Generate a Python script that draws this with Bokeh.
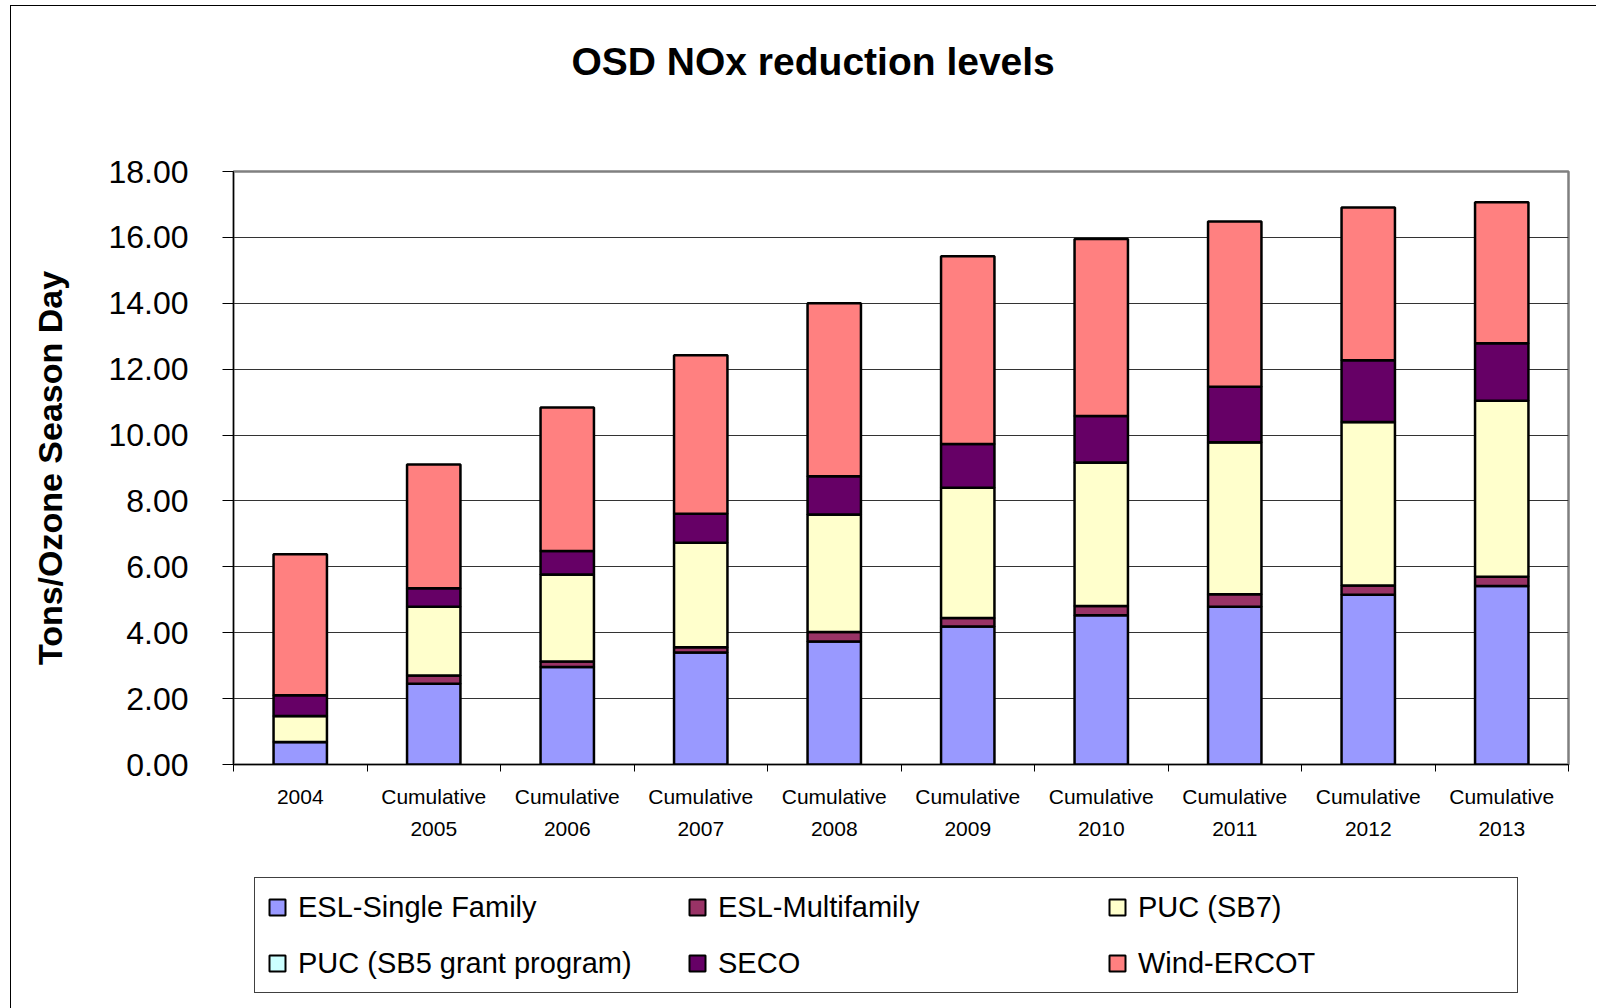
from bokeh.plotting import figure
from bokeh.layouts import column
from bokeh.models import (ColumnDataSource, FixedTicker, LinearAxis, Range1d,
                          Legend, LegendItem, NumeralTickFormatter, Title)
from bokeh.embed import file_html
from bokeh.resources import INLINE

# ---- data ----
categories = ["2004", "Cumulative 2005", "Cumulative 2006", "Cumulative 2007",
              "Cumulative 2008", "Cumulative 2009", "Cumulative 2010",
              "Cumulative 2011", "Cumulative 2012", "Cumulative 2013"]
label_line1 = ["2004", "Cumulative", "Cumulative", "Cumulative", "Cumulative",
               "Cumulative", "Cumulative", "Cumulative", "Cumulative", "Cumulative"]
label_line2 = ["", "2005", "2006", "2007", "2008", "2009", "2010", "2011", "2012", "2013"]

esl_single = [0.68, 2.45, 2.96, 3.40, 3.73, 4.19, 4.53, 4.79, 5.15, 5.42]
esl_multi = [0.00, 0.25, 0.17, 0.16, 0.29, 0.26, 0.28, 0.38, 0.28, 0.28]
puc_sb7 = [0.79, 2.09, 2.64, 3.17, 3.57, 3.95, 4.36, 4.61, 4.97, 5.34]
puc_sb5 = [0.00, 0.00, 0.00, 0.00, 0.00, 0.00, 0.00, 0.00, 0.00, 0.00]
seco = [0.63, 0.56, 0.71, 0.88, 1.16, 1.33, 1.41, 1.69, 1.87, 1.75]
wind = [4.28, 3.76, 4.36, 4.81, 5.25, 5.70, 5.37, 5.01, 4.64, 4.28]

series_names = ["ESL-Single Family", "ESL-Multifamily", "PUC (SB7)",
                "PUC (SB5 grant program)", "SECO", "Wind-ERCOT"]
series_colors = ["#9999FF", "#993366", "#FFFFCC", "#CCFFFF", "#660066", "#FF8080"]
y_ticks = [0, 2, 4, 6, 8, 10, 12, 14, 16, 18]
title_text = "OSD NOx reduction levels"
y_label = "Tons/Ozone Season Day"

# ---- main figure ----
FONT = "Liberation Sans"
xs = list(range(len(categories)))
keys = ["s0", "s1", "s2", "s3", "s4", "s5"]
data = dict(x=xs, s0=esl_single, s1=esl_multi, s2=puc_sb7, s3=puc_sb5, s4=seco, s5=wind)
source = ColumnDataSource(data)

p = figure(width=1585, height=844, output_backend="svg", toolbar_location=None,
           x_range=Range1d(-0.5, len(categories) - 0.5), y_range=Range1d(0, 18),
           min_border_left=222, min_border_right=28, min_border_top=165,
           min_border_bottom=86, x_axis_type=None)
p.title = None

renderers = p.vbar_stack(keys, x="x", width=0.4, source=source, color=series_colors,
                         line_color="black", line_width=2.5)
for r, c in zip(renderers, series_colors):
    r.glyph.fill_color = c
    r.glyph.line_color = "black"

p.background_fill_color = "white"
p.border_fill_color = "white"
p.outline_line_color = "#808080"
p.outline_line_width = 2.5

# invisible spacer axis between frame and title
spacer = LinearAxis(ticker=FixedTicker(ticks=[0], minor_ticks=[]))
spacer.major_label_overrides = {0: "."}
spacer.axis_line_color = None
spacer.major_tick_line_color = None
spacer.minor_tick_line_color = None
spacer.major_tick_out = 84
spacer.major_tick_in = 0
spacer.minor_tick_out = 0
spacer.major_label_standoff = 0
spacer.major_label_text_font_size = "2px"
spacer.major_label_text_alpha = 0
p.add_layout(spacer, "above")

title = Title(text=title_text, text_font=FONT, text_font_size="39px",
              text_font_style="bold", text_color="black", align="left",
              offset=338, vertical_align="bottom", standoff=10)
p.add_layout(title, "above")

# y axis
yax = p.yaxis[0]
yax.ticker = FixedTicker(ticks=y_ticks)
yax.formatter = NumeralTickFormatter(format="0.00")
yax.major_label_text_font = FONT
yax.major_label_text_font_size = "32px"
yax.major_label_text_color = "black"
yax.major_tick_out = 11
yax.major_tick_in = 0
yax.minor_tick_line_color = None
yax.major_label_standoff = 34
yax.axis_line_color = "black"
yax.major_tick_line_color = "black"
yax.axis_label = y_label
yax.axis_label_text_font = FONT
yax.axis_label_text_font_size = "34px"
yax.axis_label_text_font_style = "bold"
yax.axis_label_text_color = "black"
yax.axis_label_standoff = 36

p.ygrid.ticker = FixedTicker(ticks=y_ticks)
p.ygrid.grid_line_color = "#333333"
p.ygrid.grid_line_width = 1

# x axes: first line of labels with boundary ticks, second line of labels
ax1 = LinearAxis(ticker=FixedTicker(ticks=xs, minor_ticks=[i - 0.5 for i in range(len(xs) + 1)]))
ax1.major_label_overrides = {i: t for i, t in enumerate(label_line1)}
ax1.major_tick_line_color = None
ax1.major_tick_out = 7
ax1.major_tick_in = 0
ax1.minor_tick_out = 7
ax1.minor_tick_in = 0
ax1.minor_tick_line_color = "black"
ax1.axis_line_color = "black"
ax1.major_label_standoff = 13
ax1.major_label_text_font = FONT
ax1.major_label_text_font_size = "21px"
ax1.major_label_text_color = "black"
p.add_layout(ax1, "below")

ax2 = LinearAxis(ticker=FixedTicker(ticks=xs, minor_ticks=[]))
ax2.major_label_overrides = {i: t for i, t in enumerate(label_line2)}
ax2.major_tick_line_color = None
ax2.minor_tick_line_color = None
ax2.major_tick_out = 0
ax2.major_tick_in = 0
ax2.axis_line_color = None
ax2.major_label_standoff = 11
ax2.major_label_text_font = FONT
ax2.major_label_text_font_size = "21px"
ax2.major_label_text_color = "black"
p.add_layout(ax2, "below")

# ---- legend figure (frame is aligned with the main frame by the column) ----
q = figure(width=1585, height=158, output_backend="svg", toolbar_location=None,
           x_axis_type=None, y_axis_type=None, min_border=0,
           min_border_left=0, min_border_right=0, min_border_top=0, min_border_bottom=0,
           x_range=Range1d(-2, 11), y_range=Range1d(-10, 30))
q.title = None
q.outline_line_color = None
q.xgrid.visible = False
q.ygrid.visible = False
q.background_fill_color = "white"
q.border_fill_color = "white"

# same stacked series, kept hidden behind the opaque legend box: legend glyphs only
proxies = q.vbar_stack(keys, x="x", width=0.4, source=source, color=series_colors,
                       line_color="black", line_width=2)

items = [LegendItem(label=n, renderers=[r]) for n, r in zip(series_names, proxies)]
legend = Legend(items=items, orientation="horizontal", ncols=3, location=(21, 15))
legend.label_text_font = FONT
legend.label_text_font_size = "29px"
legend.label_text_color = "black"
legend.glyph_width = 20
legend.glyph_height = 20
legend.label_standoff = 11
legend.label_width = 367
legend.label_height = 34
legend.padding = 12
legend.spacing = 22
legend.margin = 0
legend.border_line_color = "#404040"
legend.border_line_alpha = 1
legend.border_line_width = 1.5
legend.background_fill_color = "white"
legend.background_fill_alpha = 1
q.add_layout(legend, "center")

layout = column(p, q, spacing=0,
                styles={"border-left": "1px solid #000", "border-top": "1px solid #000",
                        "margin-left": "10px", "margin-top": "5px"})
open("out.html", "w").write(file_html(layout, INLINE))
